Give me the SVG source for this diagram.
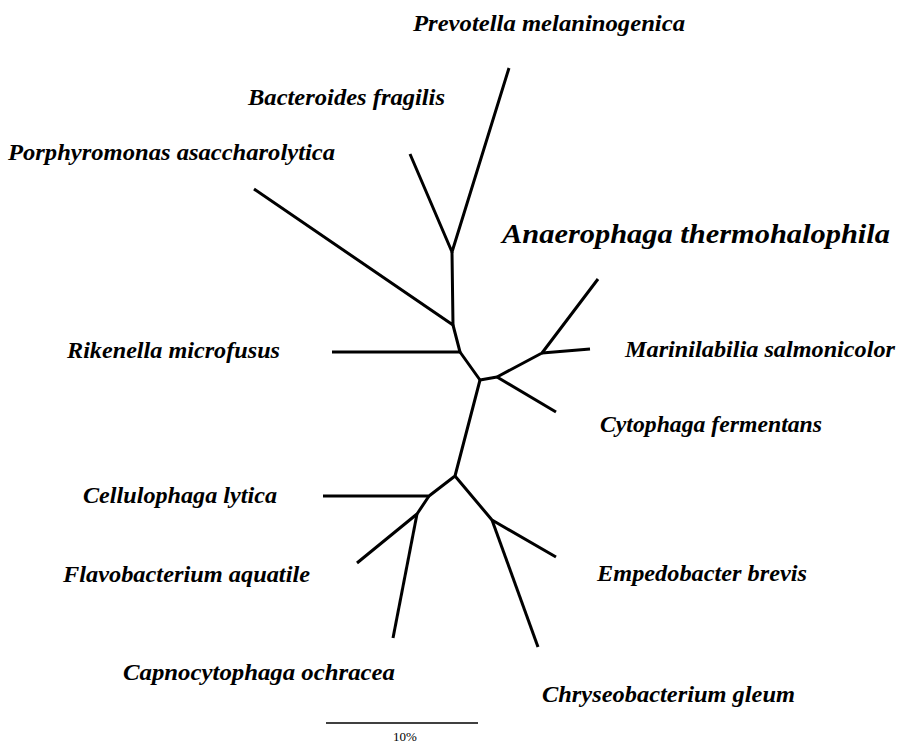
<svg xmlns="http://www.w3.org/2000/svg" width="901" height="743" viewBox="0 0 901 743">
<style>
.t{font-family:"Liberation Serif","Times New Roman",serif;font-weight:bold;font-style:italic;font-size:23px;fill:#000}
.big{font-size:27px}
.br{fill:none;stroke:#000;stroke-width:3;stroke-linecap:butt;stroke-linejoin:round}
.sc{font-family:"Liberation Serif","Times New Roman",serif;font-size:13px;fill:#000}
</style>
<rect width="901" height="743" fill="#fff"/>
<g id="connectors" class="br">
<path d="M509,68 L452,252 L410,154"/>
<path d="M452,252 L453,325 L254,189"/>
<path d="M453,325 L460,352 L332,352"/>
<path d="M460,352 L480,380 L497,377 L542,353 L598,279"/>
<path d="M542,353 L590,349"/>
<path d="M497,377 L556,412"/>
<path d="M480,380 L455,476 L429,496 L323,496"/>
<path d="M429,496 L417,514 L357,563"/>
<path d="M417,514 L393,638"/>
<path d="M455,476 L492,520 L556,557"/>
<path d="M492,520 L538,647"/>
</g>
<g id="n-prevotella"><text class="t" x="413" y="31" textLength="272" lengthAdjust="spacingAndGlyphs">Prevotella melaninogenica</text></g>
<g id="n-bacteroides"><text class="t" x="248" y="105" textLength="197" lengthAdjust="spacingAndGlyphs">Bacteroides fragilis</text></g>
<g id="n-porphyromonas"><text class="t" x="8" y="160" textLength="327" lengthAdjust="spacingAndGlyphs">Porphyromonas asaccharolytica</text></g>
<g id="n-anaerophaga"><text class="t big" x="502" y="243" textLength="388" lengthAdjust="spacingAndGlyphs">Anaerophaga thermohalophila</text></g>
<g id="n-rikenella"><text class="t" x="67" y="358" textLength="213" lengthAdjust="spacingAndGlyphs">Rikenella microfusus</text></g>
<g id="n-marinilabilia"><text class="t" x="625" y="357" textLength="270" lengthAdjust="spacingAndGlyphs">Marinilabilia salmonicolor</text></g>
<g id="n-cytophaga"><text class="t" x="600" y="432" textLength="222" lengthAdjust="spacingAndGlyphs">Cytophaga fermentans</text></g>
<g id="n-cellulophaga"><text class="t" x="83" y="503" textLength="194" lengthAdjust="spacingAndGlyphs">Cellulophaga lytica</text></g>
<g id="n-flavobacterium"><text class="t" x="63" y="582" textLength="247" lengthAdjust="spacingAndGlyphs">Flavobacterium aquatile</text></g>
<g id="n-empedobacter"><text class="t" x="597" y="581" textLength="210" lengthAdjust="spacingAndGlyphs">Empedobacter brevis</text></g>
<g id="n-capnocytophaga"><text class="t" x="123" y="680" textLength="272" lengthAdjust="spacingAndGlyphs">Capnocytophaga ochracea</text></g>
<g id="n-chryseobacterium"><text class="t" x="542" y="702" textLength="253" lengthAdjust="spacingAndGlyphs">Chryseobacterium gleum</text></g>
<g id="scale-bar">
<line x1="326" y1="723" x2="478" y2="723" stroke="#000" stroke-width="1.5"/>
<text class="sc" x="405" y="741" text-anchor="middle">10%</text>
</g>
</svg>
